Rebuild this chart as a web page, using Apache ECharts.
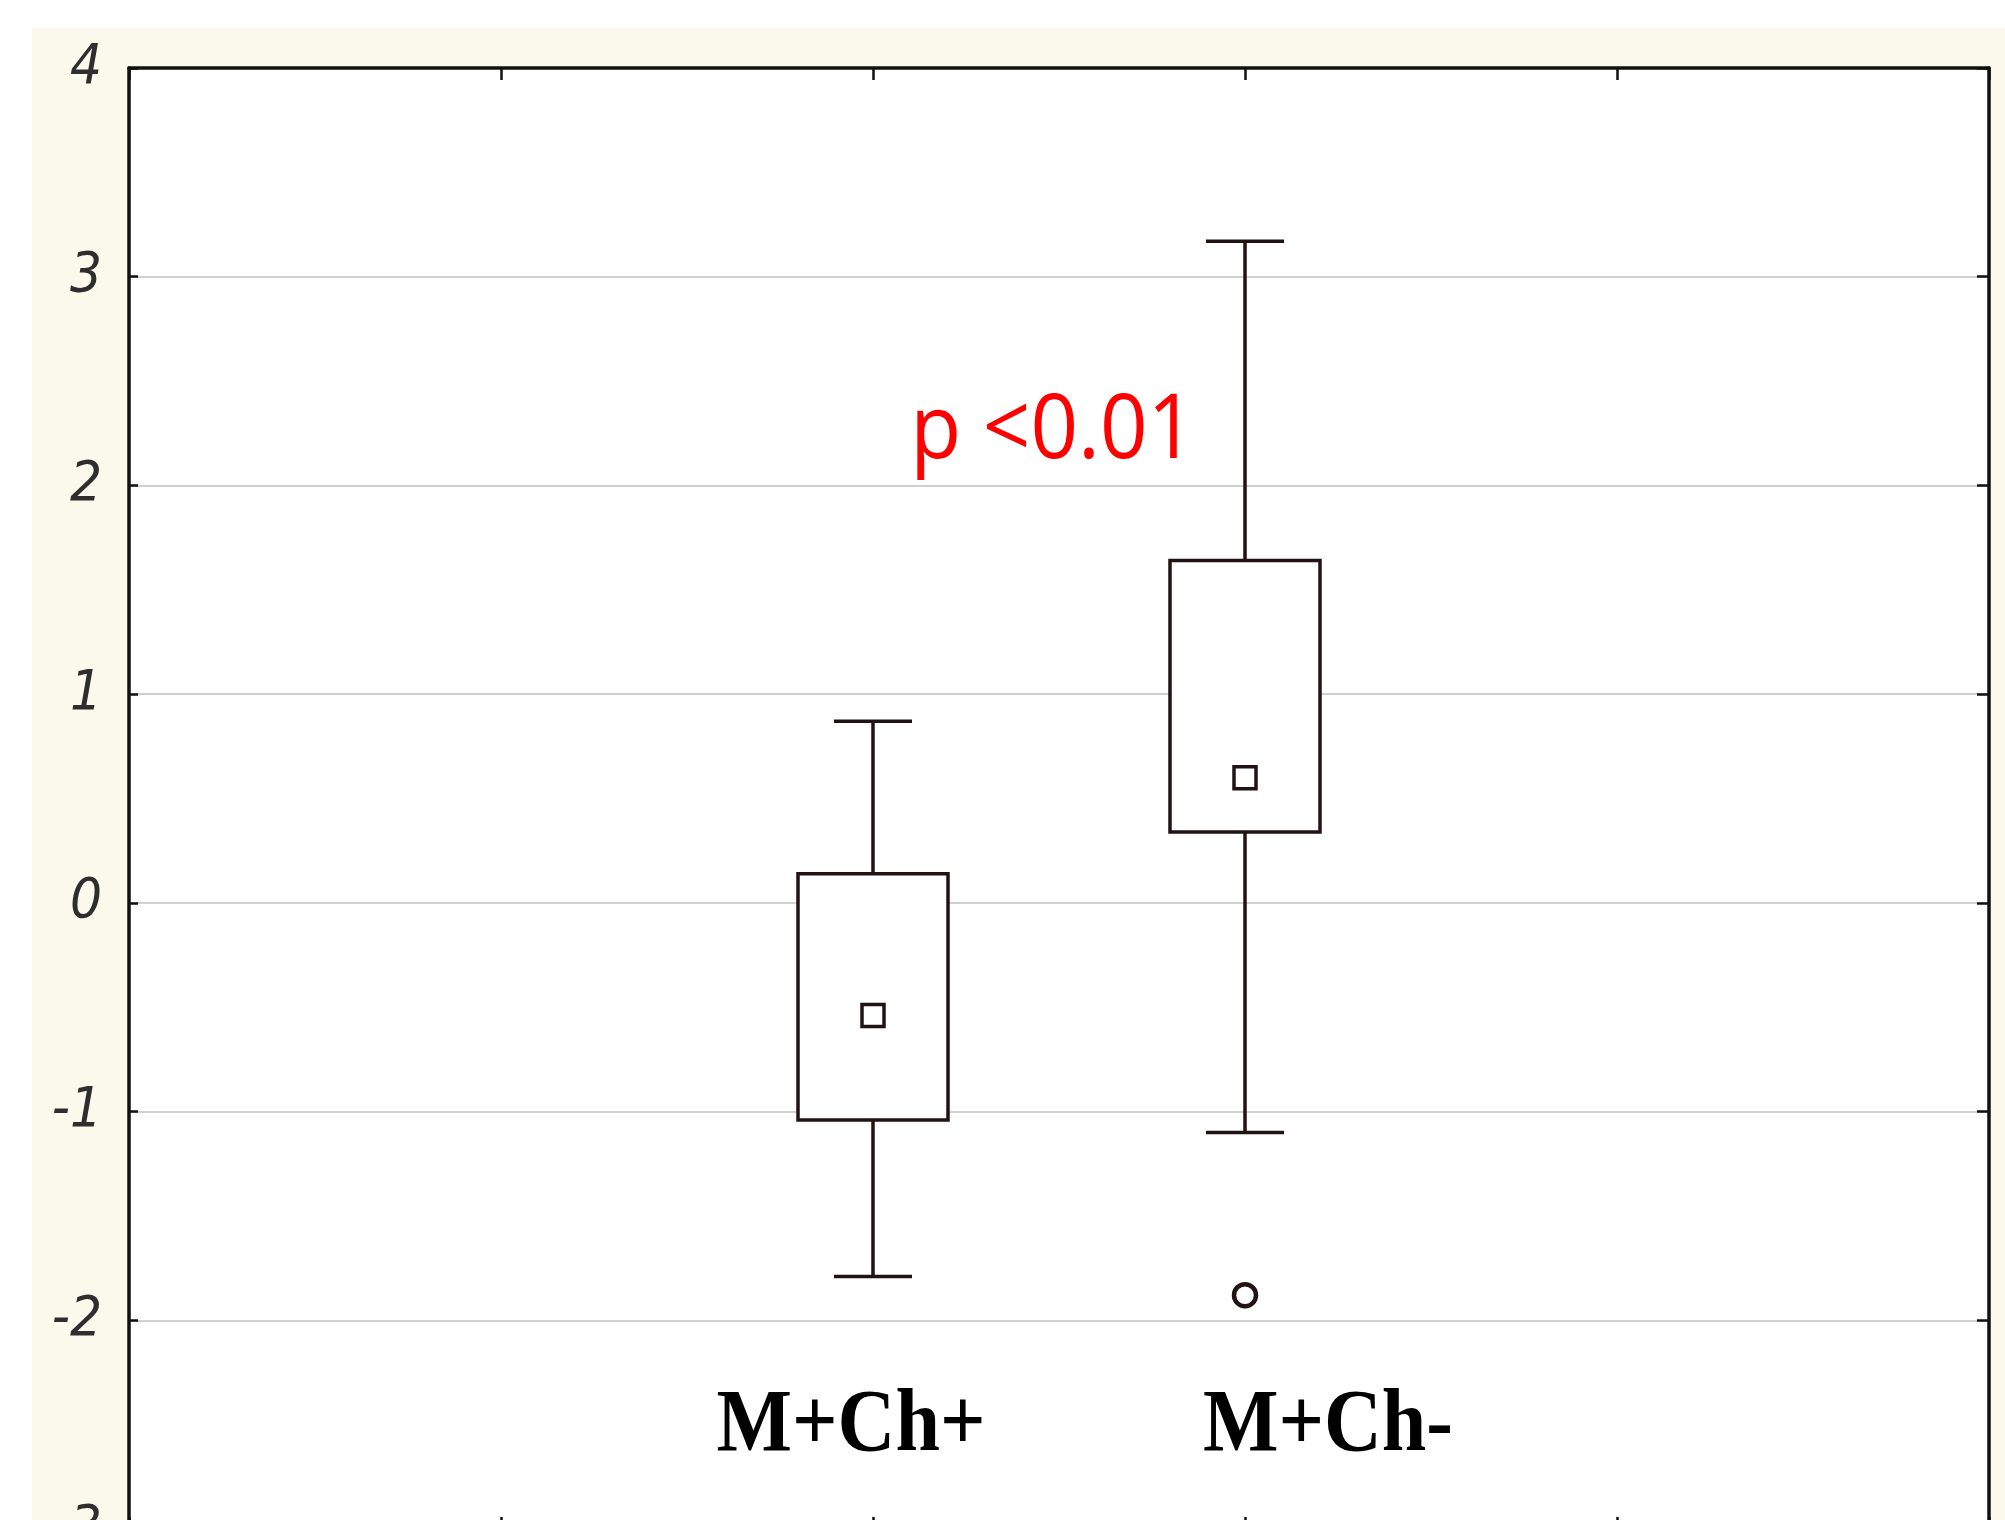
<!DOCTYPE html>
<html><head><meta charset="utf-8">
<script src="https://cdn.jsdelivr.net/npm/echarts@6/dist/echarts.min.js"></script>
<style>
html,body{margin:0;padding:0;background:#fff;}
#bg{position:absolute;left:32px;top:28px;width:1973px;height:1492px;background:#fbf8ec;}
#c{position:absolute;left:0;top:0;width:2005px;height:1520px;}
</style>
</head><body><div id="bg"></div><div id="c"></div>
<script>
// ---- data ----
const categories = ['M+Ch+', 'M+Ch-'];
const xPositions = [2, 3];
const lowWhisker = [-1.79, -1.10];
const q1Values = [-1.04, 0.34];
const medianValues = [-0.54, 0.60];
const q3Values = [0.14, 1.64];
const highWhisker = [0.87, 3.17];
const outlierX = [3];
const outlierY = [-1.88];
const yTicks = [-3, -2, -1, 0, 1, 2, 3, 4];
const xTicks = [0, 1, 2, 3, 4, 5];
const annotationText = 'p <0.01';

// ---- styling ----
const ink = '#231212';
const frame = '#111111';
const boxData = xPositions.map((x, i) => [x, lowWhisker[i], q1Values[i], medianValues[i], q3Values[i], highWhisker[i]]);
const outlierData = outlierX.map((x, i) => [x, outlierY[i]]);

const chart = echarts.init(document.getElementById('c'), null, {renderer: 'canvas'});

function axisBase(position, tickLen) {
  return {
    axisLine: {show: true, onZero: false, lineStyle: {color: frame, width: 3.5}},
    axisTick: {show: true, inside: true, length: tickLen, lineStyle: {color: frame, width: 2.5}},
    position: position
  };
}

const option = {
  animation: false,
  backgroundColor: 'transparent',
  grid: {left: 129, right: 16, top: 68, bottom: -9, show: true, backgroundColor: '#ffffff', borderWidth: 0,
    containLabel: false, outerBoundsMode: 'none'},
  xAxis: [
    Object.assign(axisBase('bottom', 12), {type: 'value', min: xTicks[0], max: xTicks[xTicks.length - 1], interval: 1,
      axisLabel: {show: false}, splitLine: {show: false}}),
    Object.assign(axisBase('top', 12), {type: 'value', min: xTicks[0], max: xTicks[xTicks.length - 1], interval: 1,
      axisLabel: {show: false}, splitLine: {show: false}})
  ],
  yAxis: [
    Object.assign(axisBase('left', 9), {type: 'value', min: yTicks[0], max: yTicks[yTicks.length - 1], interval: 1,
      axisLabel: {show: true, margin: 27, color: '#2e2e2e', fontSize: 56, fontStyle: 'italic',
        fontFamily: '"Liberation Sans Narrow", "DejaVu Sans Condensed", "Liberation Sans", sans-serif',
        formatter: v => String(v)},
      splitLine: {show: true, lineStyle: {color: '#d0d0d0', width: 2}}}),
    Object.assign(axisBase('right', 12), {type: 'value', min: yTicks[0], max: yTicks[yTicks.length - 1], interval: 1,
      axisLabel: {show: false}, splitLine: {show: false}})
  ],
  series: [
    {
      type: 'custom',
      xAxisIndex: 0, yAxisIndex: 0,
      data: boxData,
      encode: {x: 0, y: [1, 2, 3, 4, 5]},
      renderItem: function (params, api) {
        const x = api.value(0);
        const pLow = api.coord([x, api.value(1)]);
        const pQ1 = api.coord([x, api.value(2)]);
        const pMed = api.coord([x, api.value(3)]);
        const pQ3 = api.coord([x, api.value(4)]);
        const pHigh = api.coord([x, api.value(5)]);
        const cx = pLow[0];
        const boxW = 150, capW = 78, medS = 22;
        const ls = {stroke: ink, lineWidth: 3.5, fill: null};
        return {
          type: 'group',
          children: [
            {type: 'line', shape: {x1: cx, y1: pHigh[1], x2: cx, y2: pQ3[1]}, style: ls},
            {type: 'line', shape: {x1: cx, y1: pQ1[1], x2: cx, y2: pLow[1]}, style: ls},
            {type: 'line', shape: {x1: cx - capW / 2, y1: pHigh[1], x2: cx + capW / 2, y2: pHigh[1]}, style: ls},
            {type: 'line', shape: {x1: cx - capW / 2, y1: pLow[1], x2: cx + capW / 2, y2: pLow[1]}, style: ls},
            {type: 'rect', shape: {x: cx - boxW / 2, y: pQ3[1], width: boxW, height: pQ1[1] - pQ3[1]},
              style: {stroke: ink, lineWidth: 3.5, fill: '#ffffff'}},
            {type: 'rect', shape: {x: cx - medS / 2, y: pMed[1] - medS / 2, width: medS, height: medS},
              style: {stroke: ink, lineWidth: 3.5, fill: '#ffffff'}, z2: 10}
          ]
        };
      },
      z: 5
    },
    {
      type: 'scatter',
      xAxisIndex: 0, yAxisIndex: 0,
      data: outlierData,
      symbol: 'circle',
      symbolSize: 22,
      itemStyle: {color: '#ffffff', borderColor: ink, borderWidth: 4.5, opacity: 1},
      z: 6
    }
  ]
};
chart.setOption(option);

// ---- text overlays (real text), positioned relative to the data scale ----
const labelDx = [-22, 83];
const labelYValue = -2.51;
const graphics = categories.map((name, i) => {
  const p = chart.convertToPixel({xAxisIndex: 0, yAxisIndex: 0}, [xPositions[i], labelYValue]);
  return {
    type: 'text', z: 100,
    x: p[0] + labelDx[i], y: p[1], scaleX: 1.0, scaleY: 1.12,
    style: {
      text: name, x: 0, y: 0,
      fill: '#000000', font: 'bold 80px "Liberation Serif", "Times New Roman", serif',
      textAlign: 'center', textVerticalAlign: 'middle', verticalAlign: 'middle'
    }
  };
});
const pAnn = chart.convertToPixel({xAxisIndex: 0, yAxisIndex: 0}, [2.10, 2.255]);
graphics.push({
  type: 'text', z: 100,
  x: pAnn[0], y: pAnn[1], scaleX: 0.98, scaleY: 1.06,
  style: {
    text: annotationText, x: 0, y: 0,
    fill: '#ff0000', font: '85px "Open Sans", "Noto Sans", sans-serif',
    textAlign: 'left', textVerticalAlign: 'middle', verticalAlign: 'middle'
  }
});
chart.setOption({graphic: graphics});
</script>
</body></html>
